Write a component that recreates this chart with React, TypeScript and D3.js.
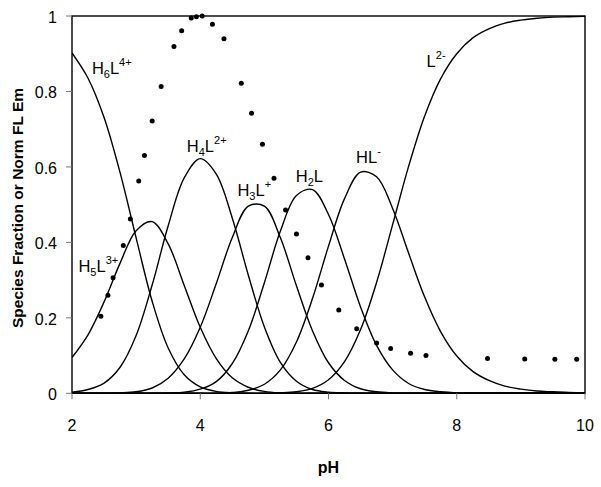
import * as d3 from "d3";
import React from "react";

// pH grid the species curves were read on
const phGrid = [2, 2.25, 2.5, 2.75, 3, 3.25, 3.5, 3.75, 4, 4.25, 4.5, 4.75, 5, 5.25, 5.5, 5.75, 6, 6.25, 6.5, 6.75, 7, 7.25, 7.5, 7.75, 8, 8.25, 8.5, 8.75, 9, 9.25, 9.5, 9.75, 10];

const h6l = [0.902, 0.835, 0.731, 0.585, 0.412, 0.244, 0.12, 0.049, 0.017, 0.005, 0.001, 0, 0, 0, 0, 0, 0, 0, 0, 0, 0, 0, 0, 0, 0, 0, 0, 0, 0, 0, 0, 0, 0];
const h5l = [0.095, 0.155, 0.242, 0.345, 0.431, 0.455, 0.396, 0.286, 0.175, 0.092, 0.041, 0.016, 0.005, 0.001, 0, 0, 0, 0, 0, 0, 0, 0, 0, 0, 0, 0, 0, 0, 0, 0, 0, 0, 0];
const h4l = [0.003, 0.01, 0.027, 0.069, 0.153, 0.287, 0.444, 0.571, 0.622, 0.581, 0.464, 0.313, 0.176, 0.082, 0.032, 0.01, 0.003, 0.001, 0, 0, 0, 0, 0, 0, 0, 0, 0, 0, 0, 0, 0, 0, 0];
const h3l = [0, 0, 0, 0.001, 0.004, 0.014, 0.04, 0.091, 0.175, 0.291, 0.413, 0.496, 0.496, 0.412, 0.285, 0.166, 0.081, 0.034, 0.012, 0.004, 0.001, 0, 0, 0, 0, 0, 0, 0, 0, 0, 0, 0, 0];
const h2l = [0, 0, 0, 0, 0, 0, 0.001, 0.003, 0.011, 0.031, 0.079, 0.166, 0.293, 0.43, 0.524, 0.54, 0.474, 0.356, 0.229, 0.127, 0.062, 0.026, 0.01, 0.004, 0.001, 0, 0, 0, 0, 0, 0, 0, 0];
const hl = [0, 0, 0, 0, 0, 0, 0, 0, 0, 0, 0.002, 0.008, 0.024, 0.062, 0.136, 0.251, 0.39, 0.516, 0.586, 0.574, 0.49, 0.371, 0.255, 0.163, 0.099, 0.058, 0.034, 0.019, 0.011, 0.006, 0.004, 0.002, 0.001];
const l2 = [0, 0, 0, 0, 0, 0, 0, 0, 0, 0, 0, 0, 0, 0.001, 0.004, 0.013, 0.036, 0.084, 0.169, 0.294, 0.447, 0.602, 0.735, 0.834, 0.9, 0.942, 0.966, 0.981, 0.989, 0.994, 0.997, 0.998, 0.999];

// normalised fluorescence emission (dots)
const emPH = [2.45, 2.56, 2.64, 2.8, 2.91, 3.04, 3.13, 3.25, 3.39, 3.59, 3.71, 3.86, 3.94, 4.03, 4.19, 4.37, 4.64, 4.8, 4.97, 5.15, 5.33, 5.5, 5.68, 5.89, 6.16, 6.44, 6.75, 6.97, 7.28, 7.52, 8.48, 9.06, 9.53, 9.87];
const emVal = [0.204, 0.26, 0.306, 0.392, 0.462, 0.563, 0.63, 0.722, 0.813, 0.919, 0.961, 0.995, 0.998, 1.0, 0.978, 0.94, 0.822, 0.742, 0.66, 0.57, 0.486, 0.422, 0.359, 0.287, 0.221, 0.171, 0.133, 0.119, 0.106, 0.1, 0.092, 0.091, 0.09, 0.09];

const xTicks = [2, 4, 6, 8, 10];
const yTicks = [0, 0.2, 0.4, 0.6, 0.8, 1];

// species labels: [text, kind] pieces, kind: n normal, b subscript, p superscript
const speciesLabels = [
    { parts: [["H", "n"], ["6", "b"], ["L", "n"], ["4+", "p"]], ph: 2.31, v: 0.845 },
    { parts: [["H", "n"], ["5", "b"], ["L", "n"], ["3+", "p"]], ph: 2.1, v: 0.321 },
    { parts: [["H", "n"], ["4", "b"], ["L", "n"], ["2+", "p"]], ph: 3.79, v: 0.64 },
    { parts: [["H", "n"], ["3", "b"], ["L", "n"], ["+", "p"]], ph: 4.58, v: 0.523 },
    { parts: [["H", "n"], ["2", "b"], ["L", "n"]], ph: 5.49, v: 0.56 },
    { parts: [["H", "n"], ["L", "n"], ["-", "p"]], ph: 6.43, v: 0.61 },
    { parts: [["L", "n"], ["2-", "p"]], ph: 7.53, v: 0.865 },
];

const FONT = "'Liberation Sans', Arial, sans-serif";

const App = () => {
    const ref = React.useRef<SVGSVGElement>(null);

    React.useEffect(() => {
        const svg = d3.select(ref.current);
        svg.selectAll("*").remove();

        const left = 72, right = 585, top = 16, bottom = 393.3;
        const x = d3.scaleLinear().domain([2, 10]).range([left, right]);
        const y = d3.scaleLinear().domain([0, 1]).range([bottom, top]);

        svg.append("defs").append("clipPath").attr("id", "plotClip")
            .append("rect")
            .attr("x", left).attr("y", top - 1)
            .attr("width", right - left).attr("height", bottom - top + 1);

        // species curves
        const line = d3.line<number>()
            .x((d, i) => x(phGrid[i]))
            .y(d => y(d))
            .curve(d3.curveCatmullRom.alpha(0.5));

        const curves = svg.append("g").attr("clip-path", "url(#plotClip)");
        [h6l, h5l, h4l, h3l, h2l, hl, l2].forEach(series => {
            curves.append("path")
                .attr("d", line(series))
                .attr("fill", "none")
                .attr("stroke", "#000")
                .attr("stroke-width", 1.4);
        });

        // emission dots
        svg.append("g").selectAll("circle")
            .data(emPH)
            .enter()
            .append("circle")
            .attr("cx", d => x(d))
            .attr("cy", (d, i) => y(emVal[i]))
            .attr("r", 2.5)
            .attr("fill", "#000");

        // frame
        svg.append("rect")
            .attr("x", left).attr("y", top)
            .attr("width", right - left).attr("height", bottom - top)
            .attr("fill", "none")
            .attr("stroke", "#000")
            .attr("stroke-width", 1.4);

        // ticks
        const tg = svg.append("g").attr("font-family", FONT).attr("font-size", 16).attr("fill", "#000");
        xTicks.forEach(t => {
            tg.append("line")
                .attr("x1", x(t)).attr("x2", x(t))
                .attr("y1", bottom).attr("y2", bottom + 6)
                .attr("stroke", "#777").attr("stroke-width", 1);
            tg.append("text")
                .attr("x", x(t)).attr("y", bottom + 38)
                .attr("text-anchor", "middle")
                .text(t);
        });
        yTicks.forEach(t => {
            tg.append("line")
                .attr("x1", left - 6).attr("x2", left)
                .attr("y1", y(t)).attr("y2", y(t))
                .attr("stroke", "#777").attr("stroke-width", 1);
            tg.append("text")
                .attr("x", left - 15).attr("y", y(t) + 7)
                .attr("text-anchor", "end")
                .text(t);
        });

        // axis titles
        svg.append("text")
            .attr("x", (left + right) / 2).attr("y", 473)
            .attr("text-anchor", "middle")
            .attr("font-family", FONT).attr("font-size", 16).attr("font-weight", "bold")
            .text("pH");
        svg.append("text")
            .attr("transform", "translate(23," + 208 + ") rotate(-90)")
            .attr("text-anchor", "middle")
            .attr("font-family", FONT).attr("font-size", 15.5).attr("font-weight", "bold")
            .text("Species Fraction or Norm FL Em");

        // species labels
        speciesLabels.forEach(lab => {
            const txt = svg.append("text")
                .attr("x", x(lab.ph)).attr("y", y(lab.v))
                .attr("font-family", FONT).attr("font-size", 16.5);
            let shift = 0;
            lab.parts.forEach(([s, kind]) => {
                const target = kind === "b" ? 4 : kind === "p" ? -8 : 0;
                txt.append("tspan")
                    .attr("dy", target - shift)
                    .attr("font-size", kind === "n" ? 16.5 : 11)
                    .text(s);
                shift = target;
            });
        });
    }, []);

    return (
        <svg
            ref={ref}
            width={601}
            height={487}
            style={{ position: "absolute", left: 0, top: 0, background: "#fff" }}
        />
    );
};

export default App;
